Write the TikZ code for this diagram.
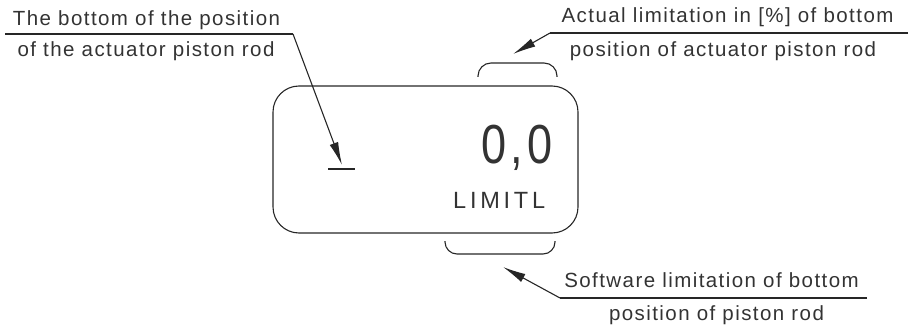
\documentclass[tikz,border=0pt]{standalone}
\usepackage{fontspec}
\setmainfont{Liberation Sans}[LetterSpace=7]
\newfontfamily\digitfont{Liberation Sans}[LetterSpace=10]
\newfontfamily\lcdfont{Liberation Sans}[LetterSpace=16]
\usetikzlibrary{arrows.meta}
\begin{document}
\begin{tikzpicture}[x=1pt,y=-1pt,
  label/.style={anchor=base,inner sep=0pt,text=black!80,font=\fontsize{20.5}{23}\selectfont},
  wire/.style={draw=black!85,line width=1.1pt},
  arr/.style={wire,-{Latex[length=23pt,width=9pt]}},
  box/.style={wire,rounded corners=26pt}]
\useasboundingbox (0,0) rectangle (912,326);
% main display box
\draw[box] (273,86) rectangle (578,233);
\node[anchor=base east,inner sep=0pt,text=black!80,font={\digitfont\fontsize{55}{58}\selectfont}] (val) at (553,163) {\scalebox{0.82}[1]{0,0}};
\node[anchor=base west,inner sep=0pt,text=black!80,font={\lcdfont\fontsize{23.5}{26}\selectfont}] (lim) at (453,208) {LIMITL};
% bottom symbol
\coordinate (barL) at (328,169);
\coordinate (barR) at (355,169);
\draw[wire] (barL) -- (barR);
% brackets
\draw[wire,rounded corners=13pt] (478,77) -- (478,63) -- (557,63) -- (557,77);
\draw[wire,rounded corners=12pt] (445,241) -- (445,254) -- (555,254) -- (555,241);
% top-left label
\node[label] (tl1) at (146.5,26) {The bottom of the position};
\node[label] (tl2) at (146,57) {of the actuator piston rod};
\coordinate (tlA) at (5,34);
\coordinate (tlB) at (293,34);
\coordinate (tlTip) at (342,165);
\draw[wire] (tlA) -- (tlB);
\draw[arr] (tlB) -- (tlTip);
% top-right label
\node[label] (tr1) at (727.5,23) {Actual limitation in [\%] of bottom};
\node[label] (tr2) at (723,57) {position of actuator piston rod};
\coordinate (trA) at (908,33);
\coordinate (trB) at (550,33);
\coordinate (trTip) at (513,54);
\draw[wire] (trA) -- (trB);
\draw[arr] (trB) -- (trTip);
% bottom-right label
\node[label] (br1) at (711.5,287) {Software limitation of bottom};
\node[label] (br2) at (716.5,320) {position of piston rod};
\coordinate (brA) at (867,298);
\coordinate (brB) at (560,298);
\coordinate (brTip) at (503,267);
\draw[wire] (brA) -- (brB);
\draw[arr] (brB) -- (brTip);
\end{tikzpicture}
\end{document}
